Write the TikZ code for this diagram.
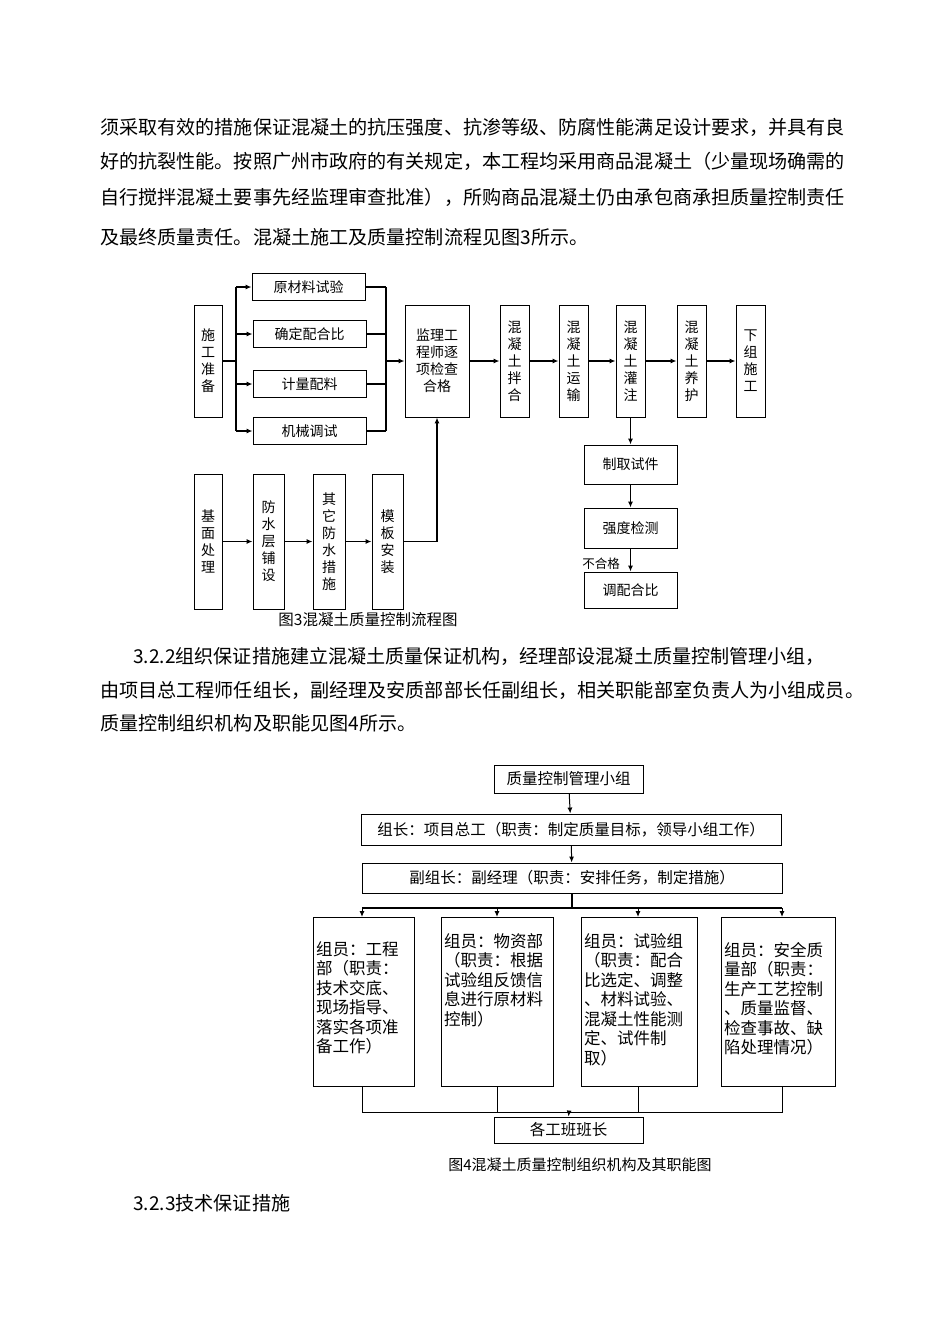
\documentclass[tikz,border=0pt]{standalone}
\usepackage{fontspec}
\setmainfont{Noto Sans CJK SC}
\usetikzlibrary{arrows.meta}
\begin{document}
\begin{tikzpicture}[x=1pt,y=-1pt,
 bx/.style={draw,line width=0.9pt,inner sep=0pt,font=\fontsize{14}{17}\selectfont},
 ln/.style={line width=1.3pt},
 ar/.style={line width=1.3pt,-{Latex[length=6pt,width=5pt]}},
 para/.style={anchor=west,inner sep=0pt,font=\fontsize{19.1}{20}\selectfont},
 mb/.style={inner sep=3pt,font=\fontsize{16.5}{19.5}\selectfont,align=left,anchor=north west}]
\useasboundingbox (0,0) rectangle (950,1344);
\fill[white] (0,0) rectangle (950,1344);
% paragraphs
\node[para] (p1) at (100,127) {须采取有效的措施保证混凝土的抗压强度、抗渗等级、防腐性能满足设计要求，并具有良};
\node[para] (p2) at (100,161) {好的抗裂性能。按照广州市政府的有关规定，本工程均采用商品混凝土（少量现场确需的};
\node[para] (p3) at (100,197) {自行搅拌混凝土要事先经监理审查批准），所购商品混凝土仍由承包商承担质量控制责任};
\node[para] (p4) at (100,237) {及最终质量责任。混凝土施工及质量控制流程见图3所示。};
\node[para] (p5) at (133,656) {3.2.2组织保证措施建立混凝土质量保证机构，经理部设混凝土质量控制管理小组，};
\node[para] (p6) at (100,690) {由项目总工程师任组长，副经理及安质部部长任副组长，相关职能部室负责人为小组成员。};
\node[para] (p7) at (100,723) {质量控制组织机构及职能见图4所示。};
\node[para] (p8) at (133,1203) {3.2.3技术保证措施};
% ---- figure 3
\node[bx,minimum width=28,minimum height=112,align=center] (sg) at (208,361) {施\\工\\准\\备};
\node[bx,minimum width=113,minimum height=27] (a1) at (308.5,287) {原材料试验};
\node[bx,minimum width=113,minimum height=27] (a2) at (309.5,334) {确定配合比};
\node[bx,minimum width=113,minimum height=27] (a3) at (309.5,384) {计量配料};
\node[bx,minimum width=113,minimum height=27] (a4) at (309.5,431) {机械调试};
\node[bx,minimum width=64,minimum height=112,align=center] (jl) at (437,361) {监理工\\程师逐\\项检查\\合格};
\node[bx,minimum width=29,minimum height=112,align=center] (b1) at (514.5,361) {混\\凝\\土\\拌\\合};
\node[bx,minimum width=29,minimum height=112,align=center] (b2) at (573.5,361) {混\\凝\\土\\运\\输};
\node[bx,minimum width=29,minimum height=112,align=center] (b3) at (630.5,361) {混\\凝\\土\\灌\\注};
\node[bx,minimum width=29,minimum height=112,align=center] (b4) at (691.5,361) {混\\凝\\土\\养\\护};
\node[bx,minimum width=29,minimum height=112,align=center] (b5) at (750.5,361) {下\\组\\施\\工};
\node[bx,minimum width=28,minimum height=135,align=center] (c1) at (208,541.5) {基\\面\\处\\理};
\node[bx,minimum width=31,minimum height=135,align=center] (c2) at (268.5,541.5) {防\\水\\层\\铺\\设};
\node[bx,minimum width=32,minimum height=135,align=center] (c3) at (329,541.5) {其\\它\\防\\水\\措\\施};
\node[bx,minimum width=31,minimum height=135,align=center] (c4) at (387.5,541.5) {模\\板\\安\\装};
\node[bx,minimum width=93,minimum height=39] (d1) at (630.5,464.5) {制取试件};
\node[bx,minimum width=93,minimum height=40] (d2) at (630.5,528) {强度检测};
\node[bx,minimum width=93,minimum height=36] (d3) at (630.5,590) {调配合比};
\node[font=\fontsize{12.5}{14}\selectfont,inner sep=0pt] (bh) at (601,564) {不合格};
\node[font=\fontsize{15.5}{17}\selectfont,inner sep=0pt] (cap3) at (368,620) {图3混凝土质量控制流程图};
\coordinate (l1) at (236,287); \coordinate (l4) at (236,431);
\draw[ln] (sg.east) -- (236,361);
\draw[ln] (l1) -- (l4);
\foreach \n in {a1,a2,a3,a4} {\draw[ar] (236,0 |- \n.west) -- (\n.west);}
\draw[ln] (386,287) -- (386,431);
\foreach \n in {a1,a2,a3,a4} {\draw[ln] (\n.east) -- (386,0 |- \n.east);}
\draw[ar] (386,361) -- (jl.west);
\draw[ar] (jl) -- (b1); \draw[ar] (b1) -- (b2); \draw[ar] (b2) -- (b3); \draw[ar] (b3) -- (b4); \draw[ar] (b4) -- (b5);
\draw[ar] (c1) -- (c2); \draw[ar] (c2) -- (c3); \draw[ar] (c3) -- (c4);
\draw[ar] (c4.east) -- (437,541.5) -- (jl.south);
\draw[ar] (b3.south) -- (d1.north);
\draw[ar] (d1) -- (d2); \draw[ar] (d2) -- (d3);
% ---- figure 4
\node[bx,minimum width=149,minimum height=28,font=\fontsize{15.5}{18}\selectfont] (g0) at (568.5,779) {质量控制管理小组};
\node[bx,minimum width=420,minimum height=31,font=\fontsize{15.5}{18}\selectfont] (g1) at (571,829.5) {组长：项目总工（职责：制定质量目标，领导小组工作）};
\node[bx,minimum width=420,minimum height=30,font=\fontsize{15.5}{18}\selectfont] (g2) at (572,878) {副组长：副经理（职责：安排任务，制定措施）};
\draw[line width=1pt] (313,917) rectangle (414,1086) (441,917) rectangle (553,1086) (581,917) rectangle (697,1086) (721,917) rectangle (835,1086);
\node[mb] (m1) at (313,938) {组员：工程\\部（职责：\\技术交底、\\现场指导、\\落实各项准\\备工作）};
\node[mb] (m2) at (441,930) {组员：物资部\\（职责：根据\\试验组反馈信\\息进行原材料\\控制）};
\node[mb] (m3) at (581,930) {组员：试验组\\（职责：配合\\比选定、调整\\、材料试验、\\混凝土性能测\\定、试件制\\取）};
\node[mb] (m4) at (721,939) {组员：安全质\\量部（职责：\\生产工艺控制\\、质量监督、\\检查事故、缺\\陷处理情况）};
\node[bx,minimum width=149,minimum height=26,font=\fontsize{15.5}{18}\selectfont] (g3) at (568.5,1130) {各工班班长};
\node[font=\fontsize{15}{17}\selectfont,inner sep=0pt] (cap4) at (580,1165) {图4混凝土质量控制组织机构及其职能图};
\draw[ar,line width=1pt] (g0) -- (g1);
\draw[ar,line width=1pt] (g1) -- (g2);
\draw[line width=1.2pt] (g2.south) -- (572,908);
\draw[line width=1.2pt] (362,908) -- (782,908);
\foreach \xx in {362,497,638,782} {\draw[line width=1pt,-{Latex[length=6pt,width=5pt]}] (\xx,908) -- (\xx,917);}
\draw[line width=1pt] (362,1086) -- (362,1112) -- (782,1112) -- (782,1086);
\draw[line width=1pt] (497,1086) -- (497,1112) (638,1086) -- (638,1112);
\draw[line width=1pt,-{Latex[length=6pt,width=5pt]}] (569,1112) -- (g3.north);
\end{tikzpicture}
\end{document}
